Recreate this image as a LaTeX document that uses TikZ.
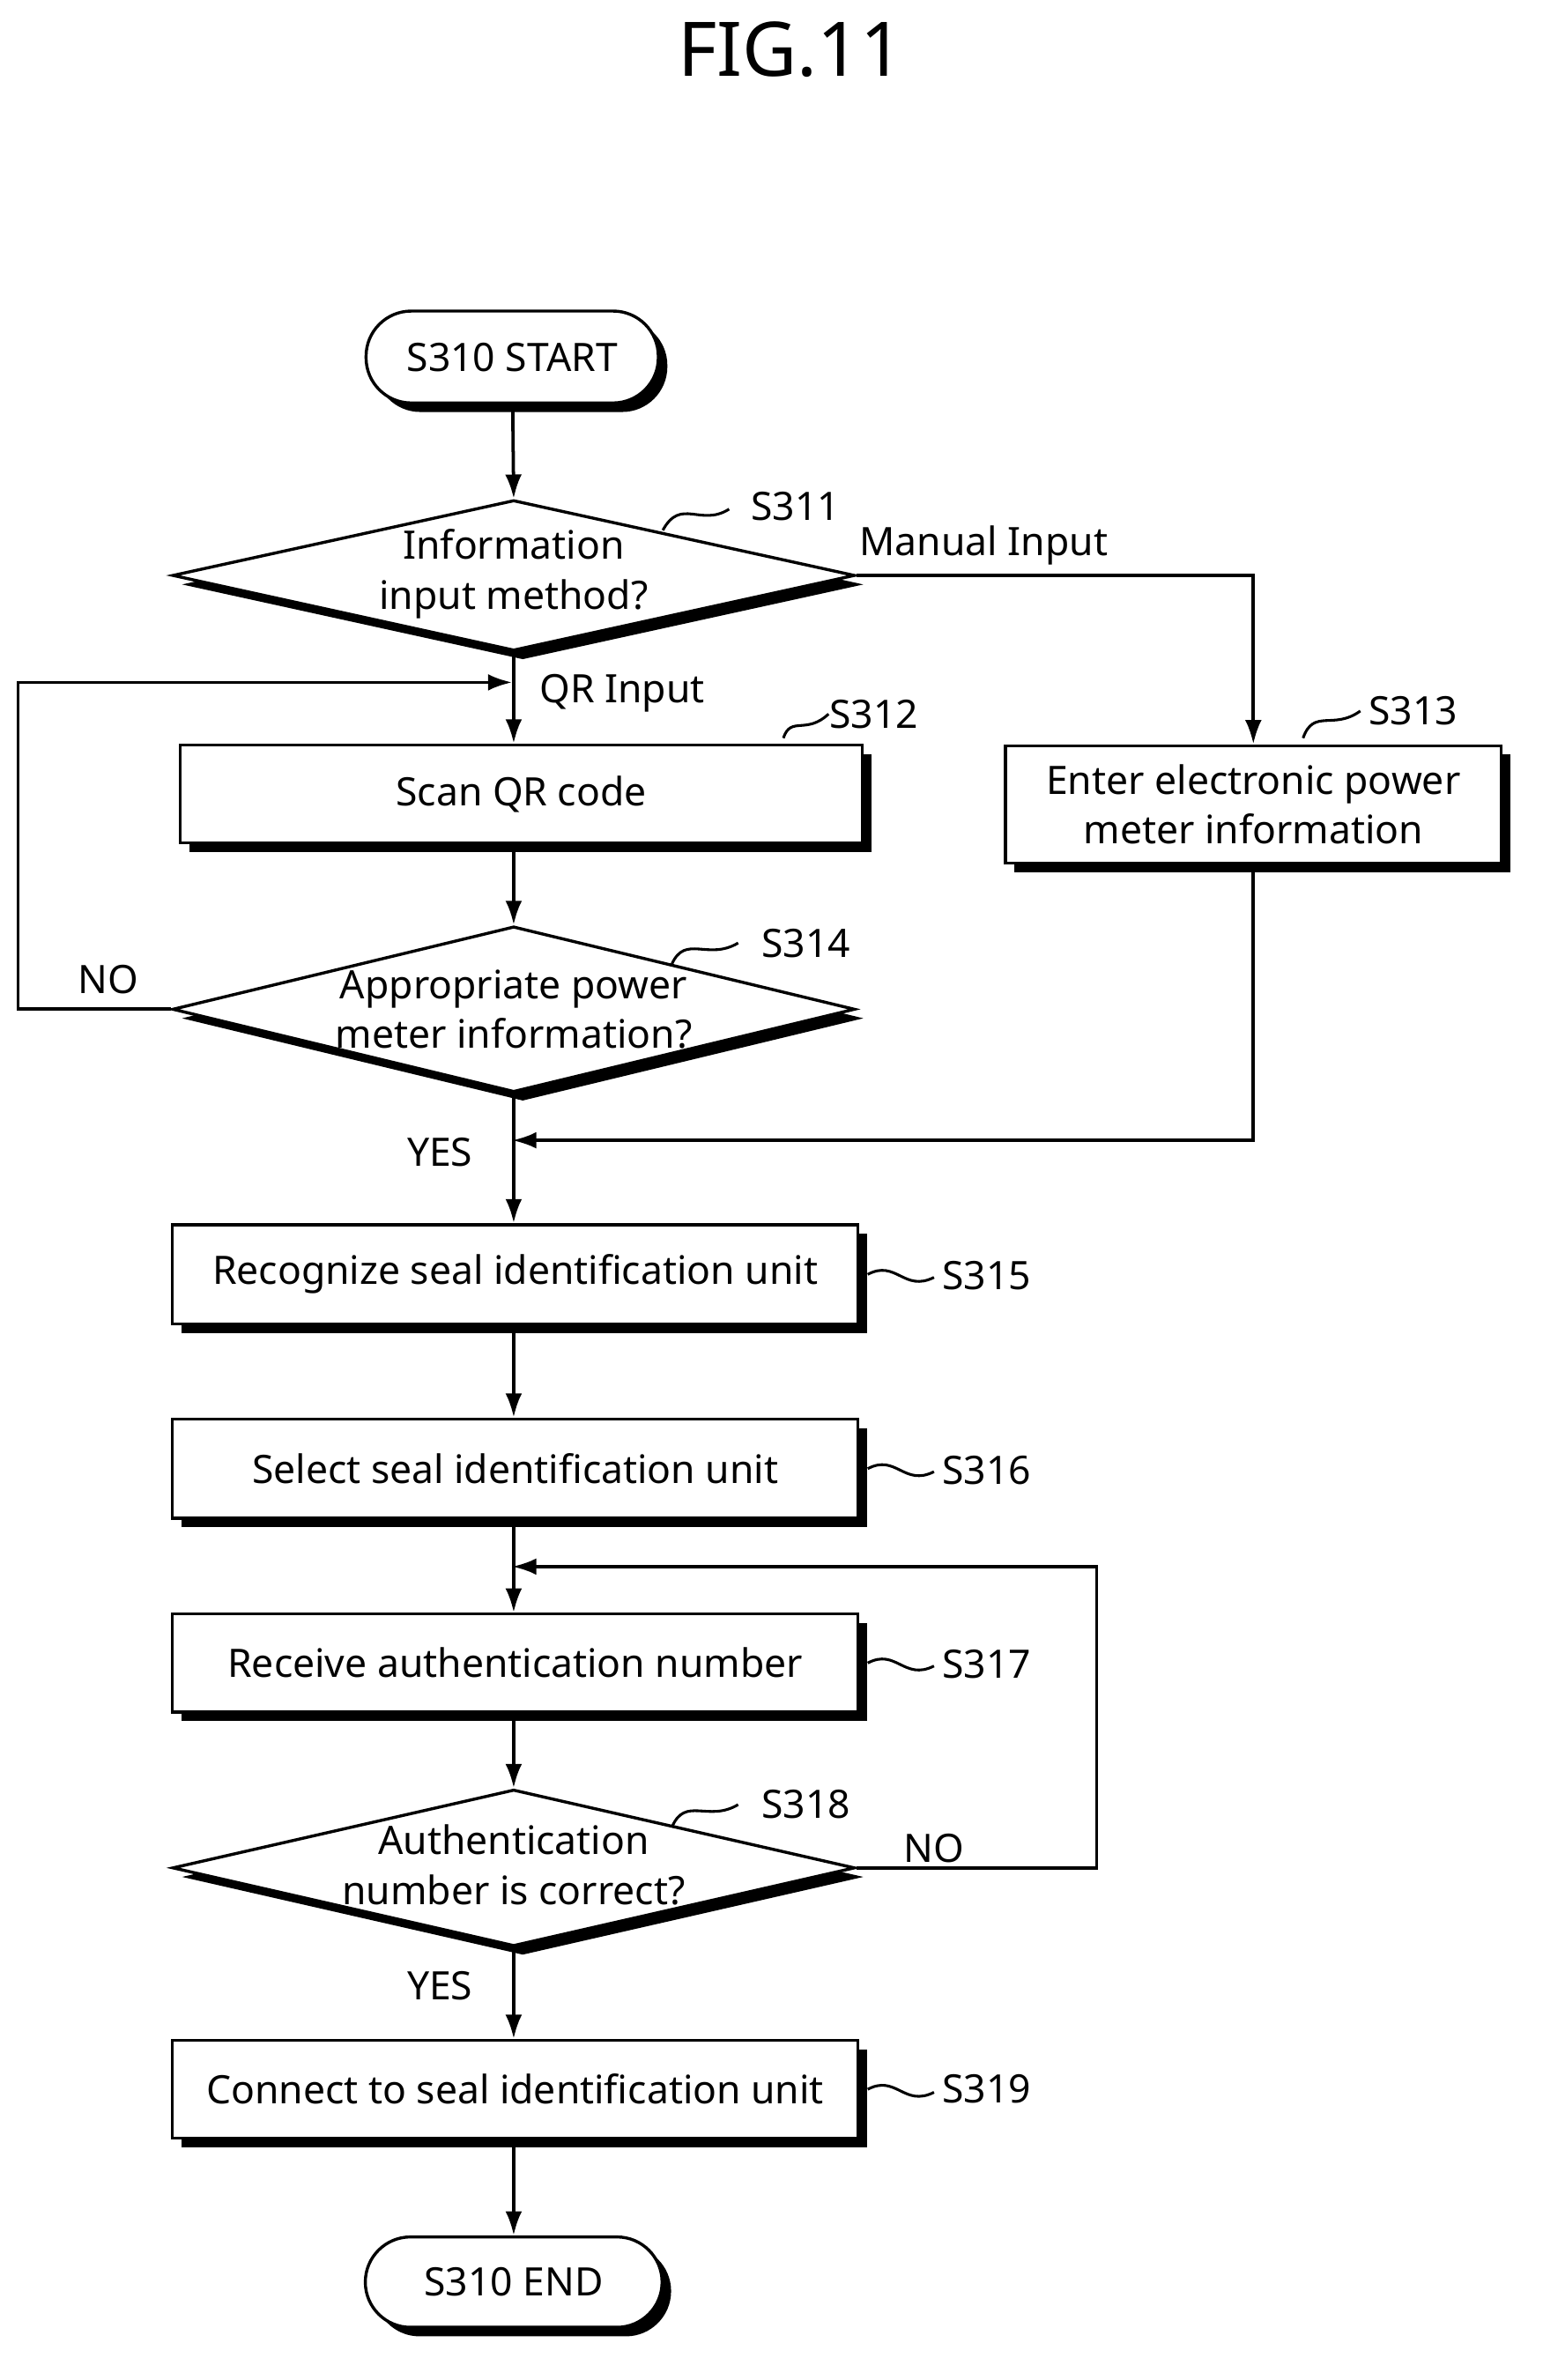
\documentclass[tikz,border=0pt]{standalone}
\usepackage{fontspec}
\setmainfont{Noto Sans}
\usetikzlibrary{shapes.geometric,shadows,arrows.meta}
\begin{document}
\begin{tikzpicture}[x=1pt,y=-1pt,
 every node/.style={font=\fontsize{26}{33}\selectfont},
 sh/.style={drop shadow={shadow xshift=6pt,shadow yshift=-6pt,fill=black,opacity=1}},
 box/.style={draw,line width=2pt,fill=white,sh,inner sep=0pt,align=center},
 term/.style={box,rounded corners=30pt},
 dia/.style={draw,line width=2pt,fill=white,sh,diamond,inner sep=0pt},
 txt/.style={align=center,inner sep=0pt},
 lab/.style={inner sep=0pt},
 arr/.style={line width=2.2pt,-{Latex[length=16pt,width=11pt]}},
 ln/.style={line width=2.2pt},
 sq/.style={line width=1.8pt}]
\useasboundingbox (0,0) rectangle (1024,1580);
\node[lab,font=\fontsize{50}{60}\selectfont] (title) at (525,33) {FIG.11};
\node[term,minimum width=194pt,minimum height=61pt] (start) at (340,237) {S310 START};
\node[dia,minimum width=453pt,minimum height=100pt] (d311) at (341,382) {};
\node[txt] (t311) at (341,381) {Information\\input method?};
\node[box,minimum width=453pt,minimum height=65pt] (s312) at (346,527) {Scan QR code};
\node[box,minimum width=329pt,minimum height=78pt] (s313) at (832,534) {Enter electronic power\\meter information};
\node[dia,minimum width=453pt,minimum height=110pt] (d314) at (341,670) {};
\node[txt] (t314) at (341,670) {Appropriate power\\meter information?};
\node[box,minimum width=455pt,minimum height=66pt] (s315) at (342,846) {Recognize seal identification unit};
\node[box,minimum width=455pt,minimum height=66pt] (s316) at (342,975) {Select seal identification unit};
\node[box,minimum width=455pt,minimum height=65pt] (s317) at (342,1104) {Receive authentication number};
\node[dia,minimum width=453pt,minimum height=104pt] (d318) at (341,1240) {};
\node[txt] (t318) at (341,1238) {Authentication\\number is correct?};
\node[box,minimum width=455pt,minimum height=65pt] (s319) at (342,1387) {Connect to seal identification unit};
\node[term,minimum width=197pt,minimum height=60pt] (end) at (341,1515) {S310 END};
% labels
\node[lab] (l311) at (528,336) {S311};
\node[lab] (l312) at (580,474) {S312};
\node[lab] (l313) at (938,472) {S313};
\node[lab] (l314) at (535,626) {S314};
\node[lab] (l315) at (655,847) {S315};
\node[lab] (l316) at (655,976) {S316};
\node[lab] (l317) at (655,1105) {S317};
\node[lab] (l318) at (535,1198) {S318};
\node[lab] (l319) at (655,1387) {S319};
\node[lab] (mi) at (653,362) {Manual Input};
\node[lab] (qr) at (413,460) {QR Input};
\node[lab] (no1) at (72,650) {NO};
\node[lab] (yes1) at (292,765) {YES};
\node[lab] (no2) at (620,1227) {NO};
\node[lab] (yes2) at (292,1318) {YES};
% squiggles
\draw[sq] (440,352) .. controls (452,330) and (465,350) .. (484,338);
\draw[sq] (520,490) .. controls (525,475) and (535,488) .. (550,474);
\draw[sq] (865,490) .. controls (872,470) and (885,485) .. (903,472);
\draw[sq] (446,640) .. controls (455,620) and (470,638) .. (490,626);
\draw[sq] (576,846) .. controls (595,836) and (600,858) .. (620,848);
\draw[sq] (576,975) .. controls (595,965) and (600,987) .. (620,977);
\draw[sq] (576,1104) .. controls (595,1094) and (600,1116) .. (620,1106);
\draw[sq] (446,1213) .. controls (455,1192) and (470,1210) .. (490,1198);
\draw[sq] (576,1387) .. controls (595,1377) and (600,1399) .. (620,1389);
% connectors
\coordinate (c1) at (340,453);
\coordinate (c2) at (340,757);
\coordinate (c3) at (340,1040);
\draw[arr] (start) -- (d311.north);
\draw[arr] (d311.south) -- (s312.north -| d311.south);
\draw[arr] (d311.east) -| (s313.north);
\draw[arr] (s312.south -| d314.north) -- (d314.north);
\draw[arr] (d314.west) -| (12,453) -- (c1);
\draw[arr] (s313.south) |- (c2);
\draw[arr] (d314.south) -- (s315.north -| d314.south);
\draw[arr] (s315.south -| d314.south) -- (s316.north -| d314.south);
\draw[arr] (s316.south -| d314.south) -- (s317.north -| d314.south);
\draw[arr] (d318.east) -| (728,1040) -- (c3);
\draw[arr] (s317.south -| d318.north) -- (d318.north);
\draw[arr] (d318.south) -- (s319.north -| d318.south);
\draw[arr] (s319.south -| end.north) -- (end.north);
\end{tikzpicture}
\end{document}
